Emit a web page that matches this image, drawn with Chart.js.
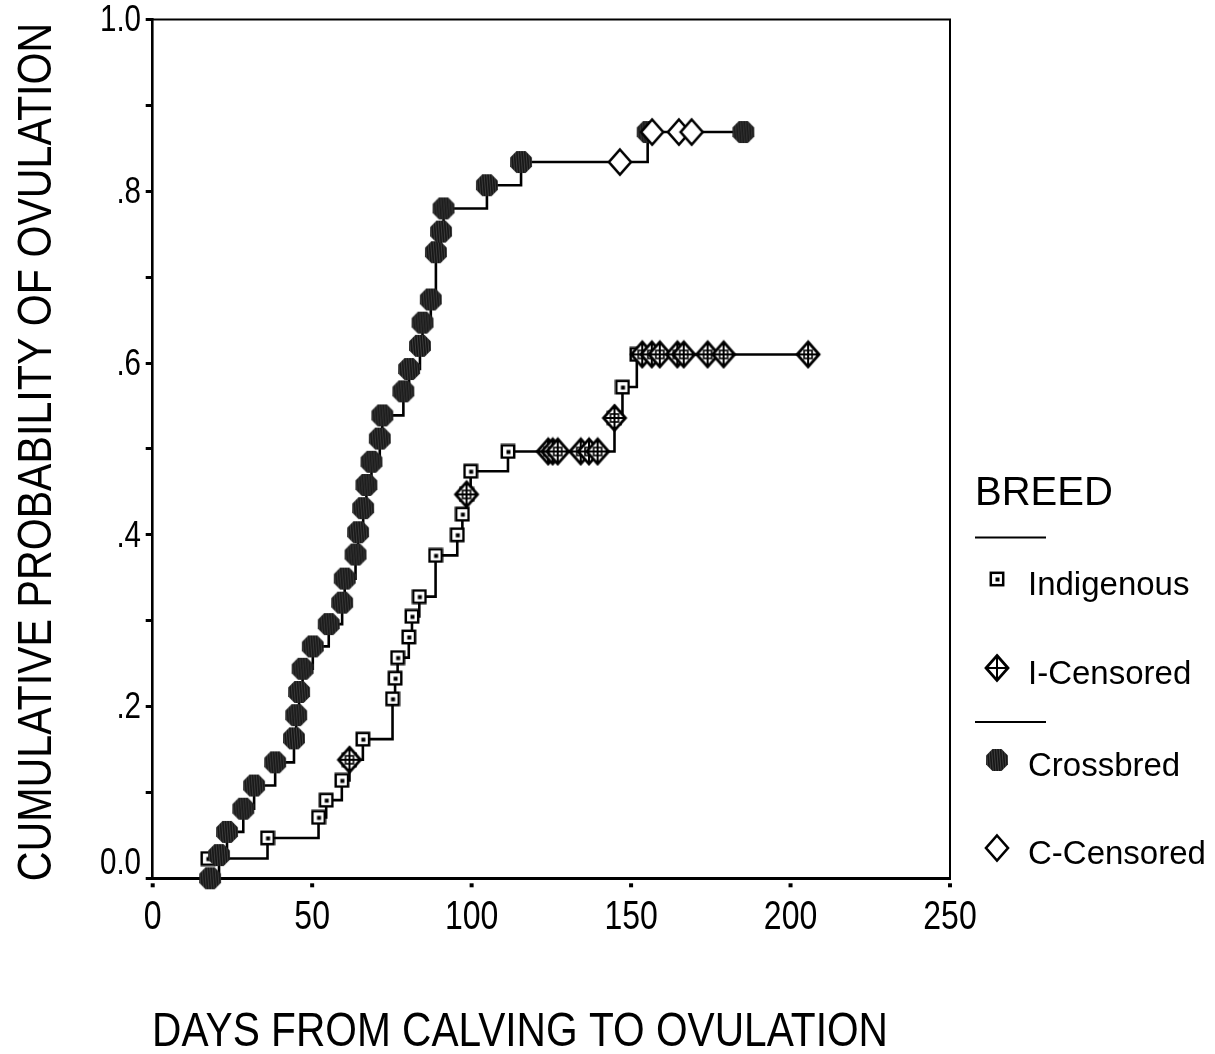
<!DOCTYPE html>
<html>
<head>
<meta charset="utf-8">
<script src="https://cdn.jsdelivr.net/npm/chart.js@4.4.1/dist/chart.umd.min.js"></script>
<style>
  html, body { margin: 0; padding: 0; background: #fff; }
  #wrap { width: 1215px; height: 1054px; position: relative; }
</style>
</head>
<body>
<div id="wrap"><canvas id="km" width="1215" height="1054"></canvas></div>
<script>
// Kaplan-Meier estimates: cumulative probability of ovulation after calving, by breed

// Indigenous: ovulation events (day, cumulative probability)
const indigenousDays = [17.3, 36, 52, 54.4, 59.3, 61.7, 65.9, 75.2, 76, 76.8, 80.3, 81.3, 83.6, 88.7, 95.5, 97.1, 98.4, 99.7, 111.4, 144.8, 147.3, 151.8];
const indigenousProb = [0.023, 0.047, 0.071, 0.091, 0.114, 0.138, 0.162, 0.209, 0.233, 0.257, 0.281, 0.305, 0.328, 0.376, 0.400, 0.424, 0.447, 0.474, 0.497, 0.536, 0.572, 0.610];
// Indigenous: censored cows
const indCensDays = [61.7, 98.4, 124, 125.4, 127, 134.2, 136.8, 139.5, 144.8, 153.5, 156.5, 159, 164.5, 166.5, 174, 179, 205.5];
const indCensProb = [0.138, 0.447, 0.497, 0.497, 0.497, 0.497, 0.497, 0.497, 0.536, 0.610, 0.610, 0.610, 0.610, 0.610, 0.610, 0.610, 0.610];

// Crossbred: ovulation events
const crossbredDays = [18, 20.8, 23.3, 28.4, 31.8, 38.4, 44.3, 45, 45.9, 47, 50.2, 55.2, 59.4, 60.2, 63.6, 64.4, 66, 67, 68.6, 71.2, 72, 78.6, 80.4, 83.8, 84.6, 87.2, 88.8, 90.4, 91.2, 104.8, 115.5, 155.2, 185.2];
const crossbredProb = [0.0, 0.027, 0.054, 0.081, 0.108, 0.135, 0.163, 0.190, 0.217, 0.244, 0.270, 0.296, 0.321, 0.349, 0.377, 0.403, 0.431, 0.458, 0.485, 0.512, 0.539, 0.567, 0.593, 0.620, 0.647, 0.674, 0.729, 0.753, 0.780, 0.807, 0.834, 0.869, 0.869];
// Crossbred: censored cows
const crossCensDays = [146.5, 156.6, 165, 169];
const crossCensProb = [0.834, 0.869, 0.869, 0.869];

const xTickValues = [0, 50, 100, 150, 200, 250];
const xTickLabels = ['0', '50', '100', '150', '200', '250'];
const yTickValues = [0, 0.2, 0.4, 0.6, 0.8, 1.0];
const yTickLabels = ['0.0', '.2', '.4', '.6', '.8', '1.0'];

const xTitle = 'DAYS FROM CALVING TO OVULATION';
const yTitle = 'CUMULATIVE PROBABILITY OF OVULATION';
const legendTitle = 'BREED';
const legendNames = ['Indigenous', 'I-Censored', 'Crossbred', 'C-Censored'];

const SANS = '"Liberation Sans", Arial, sans-serif';

// ---- marker glyphs ----
function glyph(w, h, draw) {
  const c = document.createElement('canvas');
  c.width = w; c.height = h;
  const g = c.getContext('2d');
  draw(g, w, h);
  return c;
}
function squareGlyph() {
  return glyph(16, 16, (g) => {
    g.fillStyle = '#fff'; g.fillRect(1.5, 1.5, 13, 13);
    g.strokeStyle = '#000'; g.lineWidth = 2.5;
    g.strokeRect(1.8, 1.8, 12.4, 12.4);
    g.fillStyle = '#000'; g.fillRect(6.5, 6.5, 4, 4);
  });
}
function diamondPath(g, w, h, hx, hy) {
  const cx = w / 2, cy = h / 2;
  g.beginPath();
  g.moveTo(cx, cy - hy); g.lineTo(cx + hx, cy); g.lineTo(cx, cy + hy); g.lineTo(cx - hx, cy);
  g.closePath();
}
function crossDiamondGlyph(withGrid) {
  return glyph(28, 30, (g, w, h) => {
    const hx = 11, hy = 12.5, cx = w / 2, cy = h / 2;
    diamondPath(g, w, h, hx, hy);
    g.fillStyle = '#fff'; g.fill();
    g.strokeStyle = '#000'; g.lineWidth = 2.8; g.stroke();
    g.lineWidth = 2;
    g.beginPath();
    g.moveTo(cx, cy - hy); g.lineTo(cx, cy + hy);
    g.moveTo(cx - hx, cy); g.lineTo(cx + hx, cy);
    g.stroke();
    if (withGrid) {
      g.lineWidth = 1.6;
      g.strokeRect(cx - 4, cy - 4, 8, 8);
    }
  });
}
function openDiamondGlyph() {
  return glyph(28, 30, (g, w, h) => {
    diamondPath(g, w, h, 11, 12.5);
    g.fillStyle = '#fff'; g.fill();
    g.strokeStyle = '#000'; g.lineWidth = 2.6; g.stroke();
  });
}
function octagonGlyph() {
  return glyph(24, 24, (g, w, h) => {
    const cx = w / 2, cy = h / 2, r = 11.8;
    g.beginPath();
    for (let i = 0; i < 8; i++) {
      const a = Math.PI / 8 + i * Math.PI / 4;
      const px = cx + r * Math.cos(a), py = cy + r * Math.sin(a);
      if (i === 0) g.moveTo(px, py); else g.lineTo(px, py);
    }
    g.closePath();
    g.fillStyle = '#161616'; g.fill();
    g.save(); g.clip();
    // fine hatching inside the filled symbol
    g.strokeStyle = 'rgba(120,120,120,0.55)'; g.lineWidth = 0.8;
    for (let x = -4; x < w + 4; x += 2.6) {
      g.beginPath(); g.moveTo(x, 0); g.lineTo(x + 2, h); g.stroke();
    }
    g.restore();
  });
}

const imgSquare = squareGlyph();
const imgCrossDiamond = crossDiamondGlyph(true);
const imgCrossDiamondLegend = crossDiamondGlyph(false);
const imgOpenDiamond = openDiamondGlyph();
const imgOctagon = octagonGlyph();

function toPoints(days, probs) { return days.map((d, i) => ({ x: d, y: probs[i] })); }
function stepPath(days, probs, cDays, cProbs) {
  const pts = toPoints(days, probs).concat(toPoints(cDays, cProbs));
  pts.sort((a, b) => (a.x - b.x) || (a.y - b.y));
  return pts;
}

const lineStyle = { showLine: true, stepped: 'before', borderColor: '#000', borderWidth: 2.6, pointRadius: 0, pointHoverRadius: 0, fill: false };
const markStyle = { showLine: false, pointRadius: 10, pointHoverRadius: 10, clip: false };

// condensed text, in the style of a narrow sans face
function narrowText(ctx, text, x, y, size, squeeze, align, baseline, rotate) {
  ctx.save();
  ctx.font = size + 'px ' + SANS;
  ctx.textAlign = align; ctx.textBaseline = baseline;
  ctx.translate(x, y);
  if (rotate) ctx.rotate(rotate);
  ctx.scale(squeeze, 1);
  ctx.fillText(text, 0, 0);
  ctx.restore();
}

// ---- frame, tick marks and labels, axis titles, legend ----
const decorations = {
  id: 'decorations',
  beforeDatasetsDraw(chart) {
    const { ctx, chartArea: a } = chart;
    ctx.save();
    ctx.strokeStyle = '#000'; ctx.lineWidth = 2;
    ctx.beginPath();
    ctx.moveTo(a.left, a.top); ctx.lineTo(a.right, a.top); ctx.lineTo(a.right, a.bottom);
    ctx.stroke();
    ctx.restore();
  },
  afterDraw(chart) {
    const { ctx, chartArea: a, scales } = chart;
    ctx.save();
    ctx.fillStyle = '#000';
    ctx.strokeStyle = '#000';
    // square tick marks and labels on the day axis
    xTickValues.forEach((v, i) => {
      const px = scales.x.getPixelForValue(v);
      ctx.fillRect(px - 2, a.bottom + 5, 4, 4);
      narrowText(ctx, xTickLabels[i], px, 929, 41, 0.78, 'center', 'alphabetic');
    });
    // probability axis labels
    yTickValues.forEach((v, i) => {
      const py = scales.y.getPixelForValue(v) + 2 - (v === 0 ? 16 : 0);
      narrowText(ctx, yTickLabels[i], 141, py, 36, 0.82, 'right', 'middle');
    });
    // axis titles
    narrowText(ctx, xTitle, 520, 1046, 49, 0.83, 'center', 'alphabetic');
    narrowText(ctx, yTitle, 51, 452, 49, 0.84, 'center', 'alphabetic', -Math.PI / 2);
    // legend
    ctx.textAlign = 'left';
    ctx.textBaseline = 'alphabetic';
    ctx.font = '40px ' + SANS;
    ctx.fillText(legendTitle, 975, 505);
    ctx.lineWidth = 2;
    [537.5, 722].forEach(y => {
      ctx.beginPath(); ctx.moveTo(975, y); ctx.lineTo(1046, y); ctx.stroke();
    });
    const legendMarks = [imgSquare, imgCrossDiamondLegend, imgOctagon, imgOpenDiamond];
    const rows = [579, 668, 760, 848];
    ctx.font = '33px ' + SANS;
    ctx.textBaseline = 'middle';
    rows.forEach((y, i) => {
      const img = legendMarks[i];
      ctx.drawImage(img, 997 - img.width / 2, y - img.height / 2);
      ctx.fillText(legendNames[i], 1028, y + 7);
    });
    ctx.restore();
  }
};

new Chart(document.getElementById('km'), {
  type: 'scatter',
  data: {
    datasets: [
      Object.assign({ label: 'C-Censored', data: toPoints(crossCensDays, crossCensProb), pointStyle: imgOpenDiamond, order: 0 }, markStyle),
      Object.assign({ label: 'Crossbred', data: toPoints(crossbredDays, crossbredProb), pointStyle: imgOctagon, order: 1 }, markStyle),
      Object.assign({ label: 'I-Censored', data: toPoints(indCensDays, indCensProb), pointStyle: imgCrossDiamond, order: 2 }, markStyle),
      Object.assign({ label: 'Indigenous', data: toPoints(indigenousDays, indigenousProb), pointStyle: imgSquare, order: 3 }, markStyle),
      Object.assign({ label: 'Crossbred line', data: stepPath(crossbredDays, crossbredProb, crossCensDays, crossCensProb), order: 4 }, lineStyle),
      Object.assign({ label: 'Indigenous line', data: stepPath(indigenousDays, indigenousProb, indCensDays, indCensProb), order: 5 }, lineStyle)
    ]
  },
  options: {
    responsive: false,
    animation: false,
    devicePixelRatio: 1,
    layout: { padding: { left: 0, top: 19.5, right: 265, bottom: 0 } },
    plugins: { legend: { display: false }, tooltip: { enabled: false } },
    scales: {
      x: {
        type: 'linear', min: 0, max: 250,
        afterFit: (s) => { s.height = 175.7; },
        afterBuildTicks: (s) => { s.ticks = xTickValues.map(v => ({ value: v })); },
        grid: { display: true, drawOnChartArea: false, drawTicks: false },
        border: { display: true, color: '#000', width: 3 },
        ticks: { display: false }
      },
      y: {
        type: 'linear', min: 0, max: 1,
        afterFit: (s) => { s.width = 152.7; },
        grid: { display: true, drawOnChartArea: false, drawTicks: true, tickLength: 7, tickWidth: 3, color: '#000' },
        border: { display: true, color: '#000', width: 2.6 },
        ticks: { stepSize: 0.1, display: false, autoSkip: false }
      }
    }
  },
  plugins: [decorations]
});
</script>
</body>
</html>
